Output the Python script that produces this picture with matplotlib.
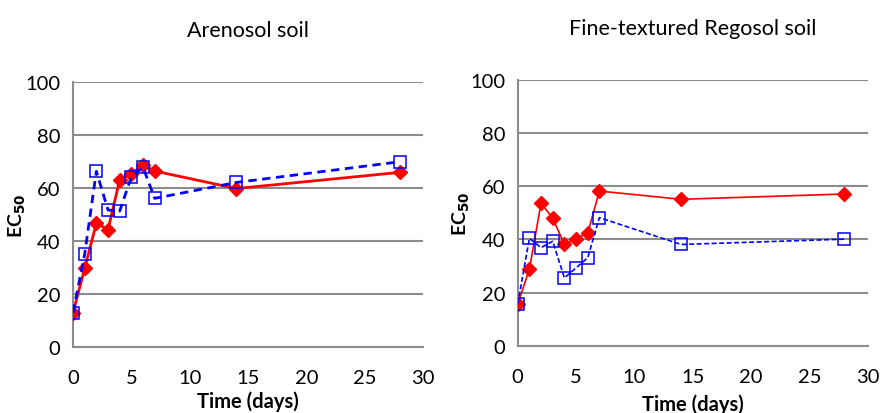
import matplotlib
matplotlib.use("Agg")
import matplotlib.pyplot as plt

plt.rcParams["font.family"] = ["Lato", "DejaVu Sans"]

# sampling days (same for both soils)
days = [0, 1, 2, 3, 4, 5, 6, 7, 14, 28]

# EC50 values, Arenosol soil
aren_red = [13, 29.7, 46.7, 44.3, 63.1, 65.4, 68.7, 66.4, 59.8, 65.9]
aren_blue = [13, 35.1, 66.3, 51.7, 51.3, 64.2, 67.8, 56.1, 62.1, 69.9]

# EC50 values, fine-textured Regosol soil
rego_red = [15.7, 28.8, 53.7, 47.9, 38.2, 40.3, 42.4, 58.2, 55.1, 57.1]
rego_blue = [15.7, 40.4, 36.9, 39.3, 25.5, 29.3, 33.1, 48.2, 38.1, 40.1]

titles = ["Arenosol soil", "Fine-textured Regosol soil"]
xticks = [0, 5, 10, 15, 20, 25, 30]
yticks = [0, 20, 40, 60, 80, 100]

GRID = "#8c8c8c"

fig = plt.figure(figsize=(8.82, 4.14), dpi=100)
ax1 = fig.add_axes([0.0828, 0.1594, 0.3968, 0.6401])
ax2 = fig.add_axes([0.5870, 0.1626, 0.3968, 0.6417])

panels = [
    (ax1, aren_red, aren_blue, 2.0, (0, (3, 2))),
    (ax2, rego_red, rego_blue, 1.2, (0, (3, 1.5))),
]

for i, (ax, red, blue, lw, dash) in enumerate(panels):
    ax.plot(days, red, color="#ff0000", lw=lw, marker="D", markersize=7,
            markerfacecolor="#ff0000", markeredgecolor="#ff0000", zorder=3)
    ax.plot(days, blue, color="#0000ff", lw=lw, ls=dash,
            marker="s", markersize=8.5, markerfacecolor="none",
            markeredgecolor="#0000ff", markeredgewidth=1.1, zorder=4)
    ax.set_xlim(0, 30)
    ax.set_ylim(0, 100)
    ax.set_xticks(xticks)
    ax.set_yticks(yticks)
    ax.tick_params(length=0, labelsize=14.5)
    ax.tick_params(axis="x", pad=16)
    ax.tick_params(axis="y", pad=9)
    ax.yaxis.grid(True, color=GRID, lw=1.5)
    ax.set_axisbelow(True)
    for s in ("top", "right"):
        ax.spines[s].set_visible(False)
    for s in ("left", "bottom"):
        ax.spines[s].set_color(GRID)
        ax.spines[s].set_linewidth(1.5)
    ax.set_title(titles[i], fontsize=15.5, pad=33)
    ax.set_xlabel("Time (days)", fontsize=14.5, fontweight="bold",
                  labelpad=3 if i == 0 else 6)
    ax.set_ylabel("EC$_{\\mathbf{50}}$", fontsize=14, fontweight="bold")
    ax.yaxis.set_label_coords(-0.13, 0.5)

fig.savefig("out.png", dpi=100)
